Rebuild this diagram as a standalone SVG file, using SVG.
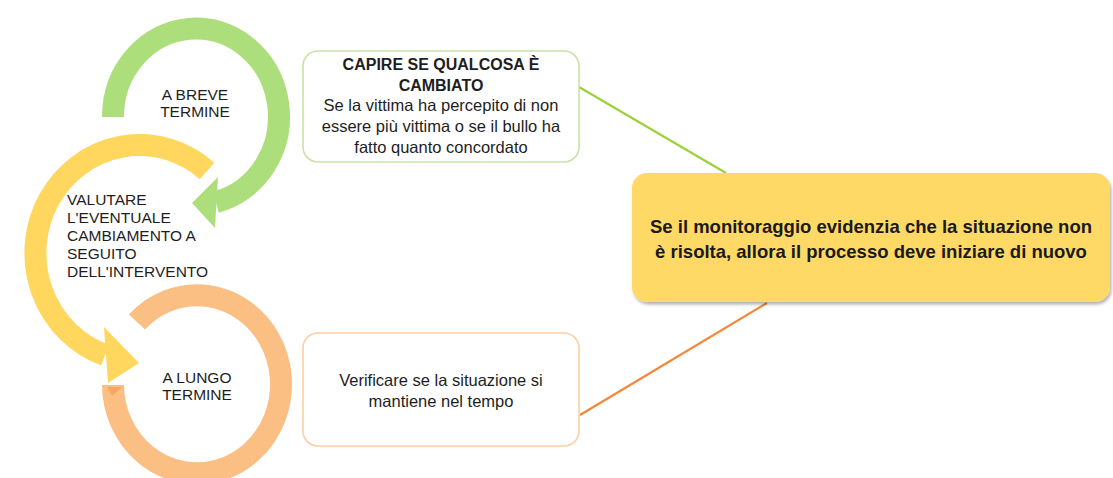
<svg xmlns="http://www.w3.org/2000/svg" width="1113" height="478" viewBox="0 0 1113 478">
<style>
  .arc { fill: none; stroke-width: 22; stroke-linecap: butt; }
  .lbl { font-family: "Liberation Sans", Arial, sans-serif; font-size: 15.5px; fill: #1e1e1e; }
  .box { fill: #ffffff; stroke-width: 1.6; }
  .btxt { font-family: "Liberation Sans", Arial, sans-serif; font-size: 16.5px; fill: #1e1e1e; text-anchor: middle; }
  .bold { font-weight: bold; font-size: 16px; }
  .big { font-family: "Liberation Sans", Arial, sans-serif; font-size: 18.5px; font-weight: bold; fill: #1a1a1a; text-anchor: middle; }
  .conn { fill: none; stroke-width: 2.2; }
</style>
<defs>
  <filter id="shadow" x="-5%" y="-10%" width="110%" height="125%">
    <feDropShadow dx="1.5" dy="2.5" stdDeviation="1.5" flood-color="#000" flood-opacity="0.3"/>
  </filter>
</defs>
<rect width="1113" height="478" fill="#ffffff"/>

<g id="connectors">
  <line class="conn" x1="579" y1="87" x2="726" y2="173" stroke="#9bd23c"/>
  <line class="conn" x1="580" y1="415" x2="767" y2="303" stroke="#f4863a"/>
</g>

<g id="node-lungo-termine">
  <path class="arc" stroke="#fbbf84" d="M 137 322 A 84 89 0 1 1 113 385"/>
  <polygon points="107,387 122,387 112,396" fill="#f6a665"/>
  <text class="lbl" x="197" y="383" text-anchor="middle">A LUNGO</text>
  <text class="lbl" x="197" y="400" text-anchor="middle">TERMINE</text>
</g>

<g id="node-valutare">
  <path class="arc" stroke="#ffd65e" d="M 207 171 A 104 108 0 1 0 105 355"/>
  <polygon points="104,327 139,363 108,383" fill="#ffd65e"/>
  <text class="lbl" x="67" y="205">VALUTARE</text>
  <text class="lbl" x="67" y="223">L'EVENTUALE</text>
  <text class="lbl" x="67" y="241">CAMBIAMENTO A</text>
  <text class="lbl" x="67" y="259">SEGUITO</text>
  <text class="lbl" x="67" y="277">DELL'INTERVENTO</text>
</g>

<g id="node-breve-termine">
  <path class="arc" stroke="#acdf7c" d="M 113 117 A 83 88 0 1 1 216 202"/>
  <polygon points="218,177 192,203 215,228" fill="#acdf7c"/>
  <text class="lbl" x="195" y="100" text-anchor="middle">A BREVE</text>
  <text class="lbl" x="195" y="117" text-anchor="middle">TERMINE</text>
</g>

<g id="node-capire">
  <rect class="box" x="303" y="51" width="276" height="111" rx="15" stroke="#c8e3a6"/>
  <text class="btxt bold" x="441" y="70">CAPIRE SE QUALCOSA È</text>
  <text class="btxt bold" x="441" y="91">CAMBIATO</text>
  <text class="btxt" x="441" y="111">Se la vittima ha percepito di non</text>
  <text class="btxt" x="441" y="132">essere più vittima o se il bullo ha</text>
  <text class="btxt" x="441" y="153">fatto quanto concordato</text>
</g>

<g id="node-verificare">
  <rect class="box" x="303" y="333" width="276" height="113" rx="15" stroke="#fbd0a6"/>
  <text class="btxt" x="441" y="386">Verificare se la situazione si</text>
  <text class="btxt" x="441" y="407">mantiene nel tempo</text>
</g>

<g id="node-monitoraggio">
  <rect x="632" y="173" width="478" height="129" rx="15" fill="#ffd966" filter="url(#shadow)"/>
  <text class="big" x="871" y="233">Se il monitoraggio evidenzia che la situazione non</text>
  <text class="big" x="871" y="258">è risolta, allora il processo deve iniziare di nuovo</text>
</g>
</svg>
